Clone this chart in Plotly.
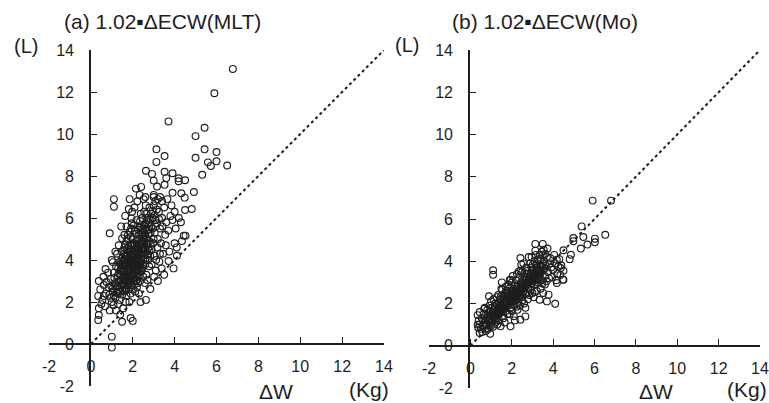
import plotly.graph_objects as go

# ---------------- data ----------------
left_x = [0.35,0.38,0.38,0.35,0.62,0.62,0.38,0.70,0.50,0.55,0.45,0.68,0.72,0.60,0.75,
          1.00,1.00,1.00,0.90,1.10,1.10,1.17,0.85,0.95,1.05,1.10,0.90,1.15,1.20,0.82,1.00,1.08,1.18,0.98,1.12,0.88,1.20,1.05,
          1.49,1.49,1.30,1.35,1.40,1.45,1.50,1.25,1.30,1.55,1.60,1.42,1.38,1.52,1.28,1.58,1.33,1.47,1.55,1.60,1.25,1.40,1.50,1.36,1.45,1.60,1.30,
          1.81,1.94,1.90,2.00,1.70,1.75,1.80,1.85,1.90,1.95,1.65,1.70,1.80,1.88,1.98,1.72,1.77,1.92,1.66,1.84,1.95,1.62,1.68,1.74,1.82,1.90,1.99,1.78,1.86,1.93,1.70,1.85,1.64,1.97,1.75,1.83,
          2.10,2.15,2.20,2.05,2.25,2.30,2.35,2.10,2.20,2.30,2.37,2.05,2.15,2.25,2.32,2.12,2.28,2.40,2.18,2.08,2.22,2.38,2.02,2.30,2.13,2.27,2.35,2.05,2.20,2.40,2.33,2.15,2.25,2.10,2.38,
          2.63,2.84,2.63,2.40,2.50,2.55,2.60,2.45,2.70,2.75,2.50,2.65,2.80,2.45,2.55,2.70,2.60,2.78,2.48,2.58,2.68,2.73,2.52,2.62,2.80,2.44,2.57,2.67,2.77,2.50,2.60,2.70,
          2.92,3.00,3.13,3.13,3.16,3.00,3.00,2.90,3.00,3.10,2.95,3.05,3.15,2.85,3.20,2.90,3.10,3.00,3.18,2.88,3.05,2.98,3.12,3.20,2.83,3.08,3.02,3.20,
          3.27,3.52,3.52,3.60,3.52,3.71,3.30,3.40,3.50,3.35,3.45,3.55,3.30,3.40,3.60,3.25,3.38,3.58,3.50,3.42,3.30,
          3.71,3.90,3.90,4.00,4.11,4.19,4.19,4.32,4.43,4.52,4.50,4.50,4.48,3.80,3.70,3.90,4.00,3.75,4.05,3.85,4.20,4.30,3.95,4.10,3.65,4.35,
          4.82,4.92,5.00,5.00,5.32,5.43,5.43,5.59,5.73,6.00,6.00,6.51,5.90,6.78,
          1.50,1.60,1.70,1.80,1.90,2.00,2.10,2.20,2.30,2.40,2.50,2.00,1.90,1.80,1.70,1.60,2.20,2.30,2.40,2.50,2.60,2.70,2.10,2.00,1.90,2.30,2.40,2.50,2.60,
          1.55,1.45,1.35,1.65,1.75,1.85,1.95,2.05,2.15,2.25,2.35,2.45,2.55,2.65,2.75,2.85,2.95,1.58,1.68,1.78,1.88,2.08,2.18,2.28,2.48,2.58,2.68,2.88,3.08,
          1.22,1.32,1.42,1.52,1.62,1.72,1.82,1.92,2.02,2.12,2.22,2.32,1.10,1.20,0.95,1.05,
          1.45,1.55,1.65,1.75,1.85,1.95,2.05,2.15,2.25,2.35,2.45,2.55,1.50,1.60,1.70,1.80,1.90,2.00,2.10,2.20,2.30,2.40,2.50,2.60,2.70,2.80,
          1.40,1.50,1.60,1.70,1.80,1.90,2.00,2.10,2.20,1.35,1.45,1.55,1.65,1.75,1.85,1.95,2.05,2.15,2.25,2.35,2.45,2.55,2.65,2.75,2.85,2.95,3.05,3.15,3.25]
left_y = [1.14,1.38,1.70,2.29,2.29,2.81,3.00,3.57,1.90,2.10,2.60,1.80,2.40,3.20,2.95,
          2.00,0.35,-0.17,5.27,6.90,6.54,4.40,2.70,3.10,2.50,3.40,1.60,2.90,3.70,3.40,4.00,1.85,2.20,2.75,3.15,2.35,1.60,3.90,
          1.06,5.03,2.40,3.00,3.50,2.80,4.10,4.30,1.90,3.20,4.60,3.80,2.10,2.55,3.25,3.70,4.70,4.40,1.70,2.90,2.70,1.40,3.45,3.90,5.60,5.20,3.60,
          6.43,5.98,1.24,1.10,2.30,3.10,3.60,4.00,4.50,2.80,4.20,4.90,2.60,3.30,3.90,3.45,5.20,5.50,2.00,2.00,4.75,3.80,3.00,4.55,3.85,2.40,3.55,2.95,4.25,3.00,5.60,6.90,6.10,6.30,4.00,3.20,
          3.40,4.10,4.60,3.00,5.00,3.80,4.40,5.40,2.70,2.40,2.00,4.80,3.70,4.30,5.60,2.50,3.20,4.90,5.90,6.50,6.80,6.20,4.30,4.00,4.45,3.55,3.00,3.65,3.90,5.30,7.10,7.40,2.90,3.15,3.60,
          2.10,2.62,8.25,7.48,4.00,4.60,5.20,3.60,4.40,5.80,5.50,3.30,4.90,4.90,6.30,6.00,3.80,3.70,4.30,2.90,5.40,4.00,6.90,6.60,6.50,5.10,4.25,4.75,5.25,3.20,7.00,3.05,
          8.10,7.78,9.27,8.67,7.50,7.10,7.00,4.50,5.00,5.60,6.00,4.20,6.40,5.30,5.00,3.80,3.50,6.60,4.60,6.20,5.30,4.80,4.00,6.90,4.20,6.80,3.20,3.00,
          3.92,8.95,8.20,7.90,7.58,10.60,5.50,6.00,6.50,4.80,4.30,5.20,7.00,6.80,5.80,6.30,3.60,4.70,3.30,5.60,4.30,
          3.95,8.13,7.20,4.80,4.20,7.89,7.75,7.18,5.16,5.16,7.80,6.38,6.97,6.10,5.40,5.90,6.30,4.40,5.50,6.60,6.00,5.80,3.60,4.60,6.90,4.90,
          6.43,7.24,9.90,8.87,8.06,10.30,9.27,8.65,8.48,9.14,8.70,8.50,11.94,13.10,
          3.10,3.40,3.70,4.10,4.20,3.60,4.00,4.20,4.50,4.10,4.60,4.00,3.70,3.40,3.20,3.00,3.50,3.40,3.90,4.40,4.50,4.80,4.70,5.00,5.10,5.20,5.60,5.00,5.70,
          3.90,3.30,2.60,2.60,2.80,3.00,3.30,3.30,3.00,3.70,3.85,4.50,4.85,5.00,4.60,4.80,5.50,4.30,4.00,3.90,4.70,4.25,4.90,4.75,5.30,5.45,5.90,5.60,5.90,
          2.45,2.95,3.05,2.90,3.55,4.20,4.40,4.00,3.80,3.85,4.05,4.25,2.30,2.80,2.20,2.65,
          3.60,3.50,3.75,3.55,3.75,4.10,4.15,4.35,4.55,4.70,4.75,5.10,3.75,4.05,4.35,4.65,3.45,3.35,3.55,3.25,3.65,3.45,3.75,4.05,4.25,4.45,
          2.50,2.35,2.50,2.65,2.85,3.05,2.60,2.85,3.05,3.35,3.95,4.45,4.75,5.00,5.35,5.75,5.65,5.25,5.45,5.85,6.00,5.65,6.20,5.45,5.95,6.35,6.15,5.75,5.95]

right_x = [5.91,6.80,5.38,4.98,4.98,5.46,6.02,6.02,6.52,5.66,5.34,4.50,4.86,4.80,3.14,3.50,1.10,1.10,4.10,3.70,4.50,0.35,0.45,0.45,0.96,0.90,
           2.42,2.82,3.14,3.54,3.73,3.86,4.18,4.37,4.50,4.47,4.18,3.78,3.35,2.66,2.42,1.94,1.46,1.94,1.54,1.90,2.34,0.82,0.67,
           0.35,0.40,0.50,0.55,0.60,0.65,0.70,0.75,0.45,0.80,0.70,0.58,0.38,0.62,0.78,
           0.85,0.90,0.95,1.00,1.05,1.10,1.15,1.20,1.25,1.30,0.88,1.00,1.10,1.20,1.28,0.92,1.02,1.18,1.08,1.22,0.98,1.12,1.30,
           1.35,1.40,1.45,1.50,1.55,1.60,1.65,1.70,1.75,1.80,1.35,1.40,1.50,1.60,1.70,1.78,1.45,1.55,1.62,1.68,1.72,1.38,1.48,1.58,1.66,1.76,1.52,1.42,
           1.85,1.90,1.95,2.00,2.05,2.10,2.15,2.20,2.25,2.30,1.85,1.90,2.00,2.10,2.20,2.28,1.88,1.98,2.08,2.18,2.28,1.92,2.02,2.12,2.22,1.82,2.05,2.25,2.15,1.96,2.06,2.16,
           2.35,2.40,2.45,2.50,2.55,2.60,2.65,2.70,2.75,2.80,2.35,2.40,2.50,2.60,2.70,2.78,2.38,2.48,2.58,2.68,2.72,2.42,2.52,2.62,2.32,2.56,2.66,2.44,2.54,2.64,2.46,
           2.85,2.90,2.95,3.00,3.05,3.10,3.15,3.20,3.25,3.30,2.85,2.90,3.00,3.10,3.20,3.28,2.88,2.98,3.08,3.18,3.22,2.92,3.02,3.12,3.26,2.96,3.16,3.06,
           3.35,3.40,3.45,3.50,3.55,3.60,3.65,3.70,3.40,3.50,3.60,3.75,3.85,3.38,3.48,3.58,3.68,3.80,3.90,3.45,3.62,3.52,
           4.00,4.10,4.20,4.05,4.30,4.25,3.95,4.40,4.15,4.35,
           0.75,0.85,0.95,1.05,1.15,1.25,1.35,1.45,1.55,1.65,1.75,1.85,1.95,2.05,2.15,2.25,2.35,2.45,2.55,2.65,2.75,2.85,2.95,3.05,3.15,3.25,3.35,3.45,
           0.80,0.90,1.00,1.10,1.20,1.30,1.40,1.50,1.60,1.70,1.80,1.90,2.00,2.10,2.20,2.30,2.40,2.50,2.60,2.70,2.80,2.90,3.00,3.10,3.20,3.30,3.40,3.50,2.95,3.15,3.35,2.75,
           1.12,1.32,1.52,1.72,1.92,2.12,2.32,2.52,2.72,2.92,3.12,3.32,1.22,1.42,1.62,1.82,2.02,2.22,2.42,2.62,2.82,3.02,3.22]
right_y = [6.87,6.87,5.65,5.10,4.95,5.15,5.07,4.90,5.25,4.79,4.60,4.52,4.31,4.10,4.82,4.82,3.57,3.36,1.99,2.10,3.13,1.45,1.00,0.60,0.57,2.34,
           4.15,4.20,4.50,4.55,4.60,4.15,4.07,3.68,3.55,3.13,2.97,2.42,2.18,1.39,1.23,0.92,0.92,3.13,2.65,3.10,3.52,1.70,1.75,
           1.00,1.20,0.80,1.30,0.95,1.50,1.10,0.70,1.60,1.35,1.80,0.65,0.85,1.20,1.00,
           1.20,1.60,1.00,1.40,1.80,1.20,1.60,2.00,1.30,1.70,0.80,2.10,0.90,1.50,2.30,1.90,1.10,1.85,1.45,1.10,1.65,2.20,1.00,
           1.50,1.90,2.20,1.60,2.00,2.40,1.80,2.10,2.60,1.50,2.40,1.20,2.70,1.30,2.80,1.90,1.75,1.40,2.15,2.50,1.65,2.05,2.35,1.85,1.10,2.25,3.00,1.55,
           2.00,2.40,1.80,2.20,2.60,1.90,2.30,2.70,2.00,2.50,2.90,1.50,3.00,1.40,3.10,1.70,2.20,2.55,2.10,2.45,2.80,2.75,1.65,2.85,1.85,2.45,3.30,3.40,1.20,2.05,2.35,2.60,
           2.30,2.70,3.00,2.40,2.80,3.20,2.50,3.00,3.40,2.70,3.20,1.90,3.50,2.00,3.70,2.20,2.55,2.95,2.60,2.85,3.25,3.55,2.15,3.45,2.05,3.90,1.80,2.45,3.10,2.95,3.85,
           3.00,3.40,2.80,3.20,3.60,2.90,3.30,3.70,3.00,3.50,2.40,3.90,2.50,4.00,2.60,4.10,3.15,3.55,3.35,3.10,3.90,2.65,3.85,2.55,3.25,4.20,4.30,2.30,
           3.30,3.80,3.10,3.60,4.00,3.30,3.80,4.20,2.70,4.30,2.90,3.50,3.90,4.10,2.95,3.65,3.05,3.20,3.70,4.45,4.35,2.50,
           3.60,3.90,3.40,4.30,4.10,3.75,3.25,3.80,3.10,3.35,
           1.25,1.45,1.30,1.55,1.35,1.65,1.75,1.95,1.70,2.00,2.10,2.25,2.30,2.45,2.15,2.35,2.60,2.75,2.55,2.80,2.95,3.20,3.05,3.25,3.45,3.60,3.55,3.75,
           0.95,1.15,0.95,1.50,1.75,1.45,1.65,1.85,2.25,1.85,2.35,2.05,2.45,2.60,2.25,2.70,2.30,2.85,2.75,2.45,3.05,2.90,3.45,3.15,3.35,3.15,3.45,3.90,3.70,3.80,4.30,3.55,
           1.40,1.60,1.80,2.05,2.15,2.40,2.55,2.70,2.90,3.15,3.30,3.50,1.25,1.55,1.95,2.15,2.30,2.50,2.65,2.95,3.10,3.30,3.50]

ref_line = [0, 14]
tick_vals = [-2, 0, 2, 4, 6, 8, 10, 12, 14]
tick_text = ["-2", "0", "2", "4", "6", "8", "10", "12", "14"]

titles = ["(a) 1.02\u25aa\u0394ECW(MLT)", "(b) 1.02\u25aa\u0394ECW(Mo)"]
x_label = "\u0394W"
x_unit = "(Kg)"
y_unit = "(L)"

# ---------------- figure ----------------
FONT = "Liberation Sans, Arial, sans-serif"
INK = "#1e1e1e"
W, H = 769, 403

fig = go.Figure()
marker = dict(symbol="circle-open", size=6.8, color=INK, line=dict(width=1.15, color=INK))
for xs, ys, ax in [(left_x, left_y, ""), (right_x, right_y, "2")]:
    fig.add_trace(go.Scatter(x=xs, y=ys, mode="markers", marker=marker,
                             xaxis="x" + ax, yaxis="y" + ax, showlegend=False, cliponaxis=False))
    fig.add_trace(go.Scatter(x=ref_line, y=ref_line, mode="lines",
                             line=dict(color=INK, width=2, dash="dot"),
                             xaxis="x" + ax, yaxis="y" + ax, showlegend=False, cliponaxis=False))

def xaxis(domain, pos):
    return dict(domain=domain, range=[-2, 14], anchor="free", position=pos, automargin=False,
                showgrid=False, zeroline=False, showline=True, linecolor=INK, linewidth=1.6,
                ticks="inside", ticklen=6, tickwidth=1.4, tickcolor=INK,
                tickvals=tick_vals, ticktext=tick_text, ticklabelstandoff=8,
                tickfont=dict(family=FONT, size=16, color=INK), fixedrange=True)

def yaxis(domain, pos):
    return dict(domain=domain, range=[-2, 14], anchor="free", position=pos, automargin=False,
                showgrid=False, zeroline=False, showline=True, linecolor=INK, linewidth=1.6,
                ticks="inside", ticklen=6, tickwidth=1.4, tickcolor=INK,
                tickvals=tick_vals, ticktext=tick_text, ticklabelstandoff=12,
                tickfont=dict(family=FONT, size=16, color=INK), fixedrange=True)

fig.update_layout(
    width=W, height=H, margin=dict(l=0, r=0, t=0, b=0, autoexpand=False),
    paper_bgcolor="white", plot_bgcolor="white",
    xaxis=xaxis([49 / W, 384 / W], 1 - 344 / H),
    yaxis=yaxis([1 - 386 / H, 1 - 50 / H], 90 / W),
    xaxis2=xaxis([429 / W, 760 / W], 1 - 346 / H),
    yaxis2=yaxis([1 - 388 / H, 1 - 50 / H], 469 / W),
)

def ann(text, x, y, size, xanchor="left"):
    fig.add_annotation(text=text, x=x / W, y=1 - y / H, xref="paper", yref="paper",
                       xanchor=xanchor, yanchor="middle", showarrow=False,
                       font=dict(family=FONT, size=size, color=INK))

ann(titles[0], 62, 21, 21)
ann(titles[1], 450, 21, 21)
ann(y_unit, 12, 46, 20)
ann(y_unit, 393, 45, 20)
ann(x_label, 257, 391, 21)
ann(x_unit, 347, 389, 21)
ann(x_label, 637, 391, 21)
ann(x_unit, 725, 389, 21)

fig.write_html("out.html", config={"displayModeBar": False},
               post_script="document.body.style.margin='0';document.body.style.padding='0';")
